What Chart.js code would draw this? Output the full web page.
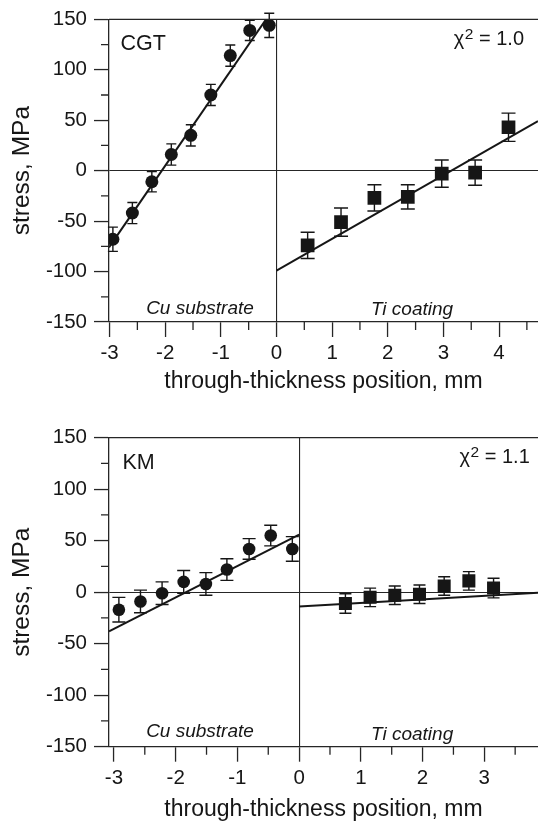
<!DOCTYPE html>
<html><head><meta charset="utf-8">
<script src="https://cdn.jsdelivr.net/npm/chart.js@4/dist/chart.umd.min.js"></script>
<style>
html,body{margin:0;padding:0;background:#fff;}
canvas{display:block;}
</style></head>
<body>
<canvas id="c1" width="538" height="400"></canvas>
<canvas id="c2" width="538" height="427"></canvas>
<script>
// ---------- data: CGT panel ----------
const cgtCuX   = [-2.94, -2.59, -2.24, -1.89, -1.54, -1.18, -0.83, -0.48, -0.13];
const cgtCuY   = [-68, -42, -11, 16, 35, 75, 114, 139, 144];
const cgtCuErr = [12, 10.5, 10, 10.5, 10.5, 10.5, 10.5, 10, 12];
const cgtTiX   = [0.56, 1.16, 1.76, 2.36, 2.97, 3.57, 4.17];
const cgtTiY   = [-74, -51, -27, -26, -3, -2, 43];
const cgtTiErr = [13, 14, 13, 12, 13.5, 12.5, 14];
const cgtCuFitX = [-3.01, 0];
const cgtCuFitY = [-76, 165];
const cgtTiFitX = [0, 4.7];
const cgtTiFitY = [-99, 49];
// ---------- data: KM panel ----------
const kmCuX   = [-2.92, -2.57, -2.22, -1.87, -1.51, -1.17, -0.81, -0.46, -0.11];
const kmCuY   = [-17, -9, -1, 10, 8, 22, 42, 55, 42];
const kmCuErr = [12, 11, 11, 11, 11, 10.5, 10, 10, 12];
const kmTiX   = [0.75, 1.15, 1.55, 1.95, 2.35, 2.75, 3.15];
const kmTiY   = [-11, -5, -3, -2, 6, 11, 4];
const kmTiErr = [9.5, 9, 9, 9, 9, 9, 9.5];
const kmCuFitX = [-3.08, 0];
const kmCuFitY = [-38, 56];
const kmTiFitX = [0, 3.87];
const kmTiFitY = [-14, -0.5];
// ---------- axis texts ----------
const xTitle = 'through-thickness position, mm';
const yTitle = 'stress, MPa';
const regionLabels = ['Cu substrate', 'Ti coating'];

const INK = '#161616';
const AX = '#262626';
const FAM = '"Liberation Sans", Arial, Helvetica, sans-serif';
Chart.defaults.font.family = FAM;
Chart.defaults.color = INK;

const zip = (xs, ys) => xs.map((x, i) => ({x, y: ys[i]}));

const errorBars = {
  id: 'errorBars',
  beforeDatasetsDraw(chart) {
    const ctx = chart.ctx, xs = chart.scales.x, ys = chart.scales.y;
    chart.data.datasets.forEach(ds => {
      if (!ds.errors) return;
      ctx.save();
      ctx.strokeStyle = INK; ctx.lineWidth = 1.4;
      ds.data.forEach((p, j) => {
        const e = ds.errors[j];
        const px = xs.getPixelForValue(p.x);
        const y1 = ys.getPixelForValue(p.y + e), y2 = ys.getPixelForValue(p.y - e);
        ctx.beginPath();
        ctx.moveTo(px, y1); ctx.lineTo(px, y2);
        ctx.moveTo(px - ds.cap, y1); ctx.lineTo(px + ds.cap, y1);
        ctx.moveTo(px - ds.cap, y2); ctx.lineTo(px + ds.cap, y2);
        ctx.stroke();
      });
      ctx.restore();
    });
  }
};

const frame = {
  id: 'frame',
  afterDraw(chart, args, o) {
    const ctx = chart.ctx, a = chart.chartArea, xs = chart.scales.x, ys = chart.scales.y;
    ctx.save();
    ctx.strokeStyle = AX; ctx.lineWidth = 1.3;
    // top border
    ctx.beginPath(); ctx.moveTo(a.left, a.top); ctx.lineTo(a.right, a.top); ctx.stroke();
    // minor ticks
    ctx.beginPath();
    for (let v = Math.ceil(xs.min * 2) / 2; v <= xs.max; v += 0.5) {
      if (Math.abs(v % 1) < 1e-9) continue;
      const px = xs.getPixelForValue(v);
      ctx.moveTo(px, a.bottom); ctx.lineTo(px, a.bottom + 8);
    }
    for (let v = -125; v <= 125; v += 50) {
      const py = ys.getPixelForValue(v);
      ctx.moveTo(a.left, py); ctx.lineTo(a.left - 8, py);
    }
    ctx.stroke();
    // annotations
    ctx.fillStyle = INK;
    ctx.textBaseline = 'alphabetic';
    ctx.font = '21.5px ' + FAM; ctx.textAlign = 'left';
    ctx.fillText(o.name, a.left + o.nameDx, a.top + o.nameDy);
    // chi^2
    const main = '20px ' + FAM, sup = '15.5px ' + FAM;
    ctx.font = main;
    const tail = ' = ' + o.chi;
    const wChi = ctx.measureText('\u03C7').width, wTail = ctx.measureText(tail).width;
    ctx.font = sup; const wSup = ctx.measureText('2').width;
    let x = a.right - o.chiDx - (wChi + wSup + wTail);
    const yb = a.top + o.chiDy;
    ctx.font = main; ctx.fillText('\u03C7', x, yb); x += wChi + 0.5;
    ctx.font = sup; ctx.fillText('2', x, yb - 6.5); x += wSup;
    ctx.font = main; ctx.fillText(tail, x, yb);
    // region labels
    ctx.font = 'italic 19px ' + FAM; ctx.textAlign = 'center';
    ctx.fillText(regionLabels[0], a.left + o.cuDx, a.bottom - o.cuDy);
    ctx.fillText(regionLabels[1], xs.getPixelForValue(0) + o.tiDx, a.bottom - o.tiDy);
    ctx.restore();
  }
};

function build(id, P) {
  return new Chart(document.getElementById(id), {
    type: 'scatter',
    data: { datasets: [
      { label: 'Cu', data: zip(P.cuX, P.cuY), errors: P.cuErr, cap: P.capCu,
        pointStyle: 'circle', pointRadius: P.rCu, backgroundColor: INK, borderColor: INK, borderWidth: 0 },
      { label: 'Ti', data: zip(P.tiX, P.tiY), errors: P.tiErr, cap: P.capTi,
        pointStyle: 'rect', pointRadius: P.rTi, backgroundColor: INK, borderColor: INK, borderWidth: 0 },
      { label: 'Cu fit', data: zip(P.cuFitX, P.cuFitY), showLine: true, pointRadius: 0,
        borderColor: INK, borderWidth: 2 },
      { label: 'Ti fit', data: zip(P.tiFitX, P.tiFitY), showLine: true, pointRadius: 0,
        borderColor: INK, borderWidth: 2 }
    ]},
    options: {
      responsive: false, animation: false, devicePixelRatio: 1,
      layout: { autoPadding: false, padding: { top: P.padTop, left: 0, right: 0, bottom: 0 } },
      plugins: { legend: { display: false }, tooltip: { enabled: false }, frame: P.ann },
      scales: {
        x: {
          type: 'linear', min: P.xmin, max: P.xmax,
          afterFit: s => { s.height = P.xAxisH; },
          border: { display: true, color: AX, width: 1.3 },
          grid: { color: c => (c.tick && c.tick.value === 0 ? AX : 'rgba(0,0,0,0)'), lineWidth: 1.1,
                  tickColor: AX, tickWidth: 1.3, tickLength: 15 },
          ticks: { stepSize: 1, includeBounds: false, padding: 4, font: { size: 20.5 }, color: INK,
                   callback: v => String(v) },
          title: { display: true, text: xTitle, font: { size: 23 }, color: INK, padding: { top: 0, bottom: P.xTitlePad } }
        },
        y: {
          type: 'linear', min: -150, max: 150,
          afterFit: s => { s.width = 109; },
          border: { display: true, color: AX, width: 1.3 },
          grid: { color: c => (c.tick && c.tick.value === 0 ? AX : 'rgba(0,0,0,0)'), lineWidth: 1.1,
                  tickColor: AX, tickWidth: 1.3, tickLength: 15 },
          ticks: { stepSize: 50, padding: 7, font: { size: 20.5 }, color: INK, callback: v => String(v) },
          title: { display: true, text: yTitle, font: { size: 24.5 }, color: INK, padding: { top: 8, bottom: 0 } }
        }
      }
    },
    plugins: [errorBars, frame]
  });
}

build('c1', {
  cuX: cgtCuX, cuY: cgtCuY, cuErr: cgtCuErr, tiX: cgtTiX, tiY: cgtTiY, tiErr: cgtTiErr,
  cuFitX: cgtCuFitX, cuFitY: cgtCuFitY, tiFitX: cgtTiFitX, tiFitY: cgtTiFitY,
  capCu: 5, capTi: 7, rCu: 6.5, rTi: 9.7,
  xmin: -3.01, xmax: 4.7, padTop: 13, xAxisH: 78, xTitlePad: 5,
  ann: { name: 'CGT', nameDx: 11.5, nameDy: 31, chi: '1.0', chiDx: 14.5, chiDy: 26,
         cuDx: 91, cuDy: 8.5, tiDx: 135.5, tiDy: 7.5 }
});
build('c2', {
  cuX: kmCuX, cuY: kmCuY, cuErr: kmCuErr, tiX: kmTiX, tiY: kmTiY, tiErr: kmTiErr,
  cuFitX: kmCuFitX, cuFitY: kmCuFitY, tiFitX: kmTiFitX, tiFitY: kmTiFitY,
  capCu: 6.5, capTi: 6, rCu: 6.3, rTi: 9.2,
  xmin: -3.08, xmax: 3.87, padTop: 37.7, xAxisH: 80.3, xTitlePad: 4,
  ann: { name: 'KM', nameDx: 13.4, nameDy: 31.3, chi: '1.1', chiDx: 8.7, chiDy: 25.6,
         cuDx: 91, cuDy: 9.4, tiDx: 113, tiDy: 6.5 }
});
</script>
</body></html>
